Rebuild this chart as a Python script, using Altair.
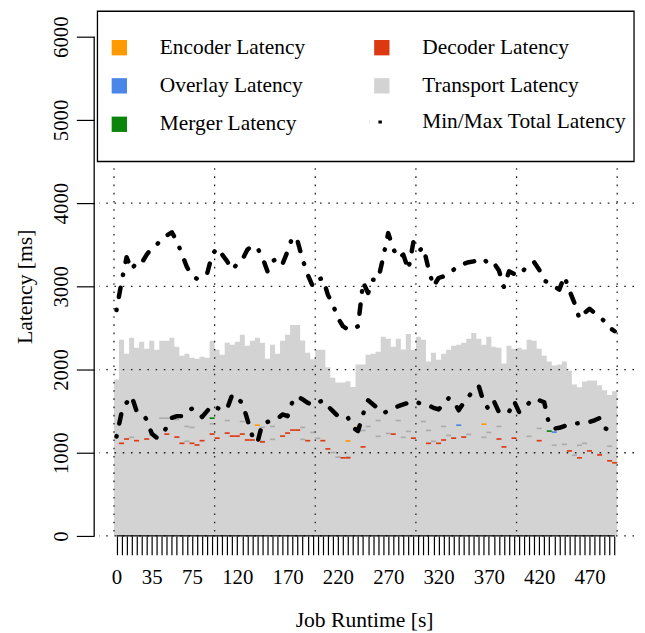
import altair as alt
import pandas as pd

FONT = "Liberation Serif"

# ---------------- data ----------------
runtime = list(range(0, 500, 5))          # start second of every bar (100 bars)
tick_labels = ["0", "35", "75", "120", "170", "220", "270", "320", "370", "420", "470"]

transport_top = [
    1880, 2357, 2190, 2381, 2262, 2333, 2250, 2345, 2238, 2345,
    2345, 2381, 2274, 2167, 2190, 2143, 2131, 2155, 2143, 2345,
    2238, 2179, 2321, 2298, 2333, 2417, 2286, 2345, 2381, 2321,
    2131, 2298, 2190, 2345, 2417, 2536, 2536, 2350, 2202, 2125,
    2238, 2238, 2028, 1900, 1845, 1845, 1860, 1790, 2060, 2060,
    2179, 2190, 2214, 2393, 2369, 2274, 2369, 2242, 2428, 2238,
    2393, 2357, 2095, 2202, 2119, 2190, 2238, 2286, 2298, 2321,
    2369, 2440, 2369, 2298, 2393, 2274, 2262, 2071, 2286, 2250,
    2262, 2240, 2357, 2345, 2250, 2167, 2095, 2048, 2060, 2095,
    1985, 1821, 1786, 1857, 1869, 1869, 1810, 1750, 1695, 1738,
]

max_total = [
    2714, 3050, 3350, 3200, 3290, 3280, 3380, 3460, 3500, 3570,
    3610, 3650, 3540, 3390, 3230, 3130, 3090, 3110, 3150, 3380,
    3460, 3380, 3300, 3200, 3270, 3320, 3440, 3490, 3460, 3350,
    3180, 3300, 3340, 3270, 3420, 3600, 3540, 3320, 3140, 3000,
    3080, 3100, 2900, 2780, 2620, 2520, 2480, 2480, 2520, 3050,
    2920, 3080, 3080, 3350, 3640, 3450, 3340, 3380, 3200, 3530,
    3420, 3470, 3210, 3000, 3100, 3120, 3150, 3200, 3250, 3270,
    3290, 3300, 3310, 3330, 3260, 3280, 3190, 2990, 3180, 3150,
    3130, 3200, 3260, 3290, 3200, 3070, 3040, 3000, 2960, 3120,
    2950, 2800, 2610, 2680, 2730, 2680, 2630, 2580, 2500, 2460,
]

min_total = [
    1194, 1480, 1600, 1680, 1500, 1470, 1400, 1230, 1180, 1210,
    1310, 1420, 1440, 1440, 1500, 1530, 1480, 1430, 1500, 1571,
    1540, 1510, 1530, 1700, 1650, 1600, 1400, 1200, 1120, 1357,
    1370, 1390, 1410, 1460, 1440, 1620, 1680, 1640, 1600, 1571,
    1600, 1630, 1560, 1500, 1440, 1450, 1420, 1300, 1260, 1464,
    1630, 1580, 1530, 1476, 1500, 1530, 1560, 1580, 1600, 1619,
    1600, 1580, 1570, 1540, 1520, 1590, 1655, 1620, 1510, 1600,
    1679, 1750, 1800, 1600, 1523, 1619, 1488, 1470, 1490, 1620,
    1490, 1530, 1600, 1650, 1630, 1607, 1330, 1290, 1300, 1321,
    1340, 1350, 1355, 1360, 1370, 1390, 1417, 1300, 1260, 1250,
]

# small stage segments: bar index and the stacked height at which they sit
decoder_bar = [1, 2, 4, 6, 10, 12, 13, 15, 16, 17, 19, 20, 22, 23, 24, 25, 26, 27, 29, 33,
               34, 35, 36, 38, 41, 42, 45, 46, 49, 55, 59, 62, 64, 65, 67, 69, 76, 77, 79, 84,
               90, 92, 94, 96, 98, 99]
decoder_level = [1103, 1155, 1135, 1155, 1214, 1178, 1103, 1103, 1083, 1135, 1214, 1165, 1226,
                 1190, 1190, 1214, 1143, 1143, 1120, 1190, 1226, 1262, 1262, 1135, 1135, 1036,
                 929, 929, 1060, 1214, 1165, 1103, 1103, 1143, 1165, 1178, 1155, 1060, 1165,
                 1135, 1012, 929, 1012, 964, 893, 869]
encoder_bar = [28, 46, 48, 73]
encoder_level = [1321, 1131, 1297, 1333]
overlay_bar = [68, 87]
overlay_level = [1321, 1238]
merger_bar = [19, 86]
merger_level = [1405, 1250]
other_bar = [3, 7, 9, 10, 12, 14, 14, 15, 19, 22, 25, 29, 29, 31, 31, 37, 37, 39, 40, 43,
             44, 46, 49, 50, 52, 52, 54, 56, 57, 58, 61, 62, 63, 65, 66, 70, 73, 74, 76, 82,
             84, 87, 89, 91, 92, 93, 98]
other_level = [1175, 1198, 1405, 1405, 1389, 1306, 1127, 1294, 1337, 1377, 1365, 1294, 1127,
               1306, 1151, 1294, 1151, 1234, 1163, 992, 937, 937, 1258, 1306, 1377, 1187,
               1222, 1377, 1175, 1246, 1365, 1258, 1127, 1306, 1198, 1210, 1175, 1234, 1306,
               1187, 1282, 1080, 1091, 960, 1080, 1103, 1068]
segment_ms = 20

series_names = ["Encoder Latency", "Decoder Latency", "Overlay Latency",
                "Transport Latency", "Merger Latency"]
series_colors = ["#FF9900", "#DC3912", "#4A86E8", "#D3D3D3", "#0A840A"]
line_name = "Min/Max Total Latency"

# ---------------- tables ----------------
BAR_W = 5
# transport bars drawn as one stepped area (bar i covers [t, t+5]); closing edge repeats last top
transport_df = pd.DataFrame({
    "series": "Transport Latency",
    "t0": runtime + [runtime[-1] + BAR_W],
    "lo": 0,
    "hi": transport_top + [transport_top[-1]],
})

seg_rows = []
for name, bars, levels in [("Encoder Latency", encoder_bar, encoder_level),
                           ("Decoder Latency", decoder_bar, decoder_level),
                           ("Overlay Latency", overlay_bar, overlay_level),
                           ("Merger Latency", merger_bar, merger_level)]:
    for b, lv in zip(bars, levels):
        seg_rows.append({"series": name, "t0": runtime[b], "t1": runtime[b] + BAR_W,
                         "lo": lv, "hi": lv + segment_ms})
seg_df = pd.DataFrame(seg_rows)

other_df = pd.DataFrame({
    "t0": [runtime[b] for b in other_bar],
    "t1": [runtime[b] + BAR_W for b in other_bar],
    "lo": other_level,
    "hi": [v + segment_ms for v in other_level],
})

centers = [t + BAR_W / 2 for t in runtime]
line_df = pd.concat([
    pd.DataFrame({"t": centers, "ms": max_total, "kind": "max", "label": line_name}),
    pd.DataFrame({"t": centers, "ms": min_total, "kind": "min", "label": line_name}),
])

label_idx = [runtime.index(int(v)) for v in tick_labels]
label_vals = [centers[i] for i in label_idx]

ygrid_df = pd.DataFrame({"v": [0, 1000, 2000, 3000, 4000, 5000, 6000]})
xgrid_df = pd.DataFrame({"v": [runtime[i] for i in range(0, 100, 20)] + [runtime[-1] + BAR_W]})
xaxis_df = pd.DataFrame({"a": [centers[0]], "b": [centers[-1]], "y": [0]})
yaxis_df = pd.DataFrame({"a": [0], "b": [6000]})

# ---------------- scales / axes ----------------
W, H = 540, 529
xscale = alt.Scale(domain=[-14.76, 516.73], nice=False, zero=False)
yscale = alt.Scale(domain=[0, 6297.6], nice=False, zero=False)

label_list = ",".join(str(v) for v in label_vals)
x_axis = alt.Axis(
    values=centers,
    labelExpr=f"indexof([{label_list}], datum.value) >= 0 ? format(datum.value - {BAR_W / 2}, 'd') : ''",
    domain=False, grid=False, ticks=True, tickSize=19, tickWidth=1.2, tickColor="black",
    labelFont=FONT, labelFontSize=21, labelColor="black", labelPadding=23,
    labelBaseline="middle", labelOverlap=False, labelFlush=False,
    title="Job Runtime [s]", titleFont=FONT, titleFontSize=21.8, titleFontWeight="normal",
    titleColor="black", titleBaseline="middle", titleAlign="center", titleY=84, titleX=267.5,
)
y_axis = alt.Axis(
    values=[0, 1000, 2000, 3000, 4000, 5000, 6000], format="d",
    domain=False, grid=False, tickSize=18, tickWidth=1.2, tickColor="black", offset=5,
    labelFont=FONT, labelFontSize=21, labelColor="black", labelAngle=270,
    labelAlign="center", labelBaseline="middle", labelPadding=15, labelOverlap=False,
    labelFlush=False,
    title="Latency [ms]", titleFont=FONT, titleFontSize=21.8, titleFontWeight="normal",
    titleColor="black", titleAngle=270, titleBaseline="middle", titleAlign="center",
    titleX=-70, titleY=277,
)

LEG_FS = 21.6
color_enc = alt.Color(
    "series:N",
    scale=alt.Scale(domain=series_names, range=series_colors),
    legend=alt.Legend(
        title=None, orient="none", legendX=9.6, legendY=25, columns=2, direction="horizontal",
        columnPadding=66, rowPadding=15.8, symbolType="square", symbolSize=240,
        symbolStrokeWidth=0, labelFont=FONT, labelFontSize=LEG_FS, labelColor="black",
        labelOffset=30, labelLimit=400, padding=0,
    ),
)

X = lambda f: alt.X(f, scale=xscale, axis=x_axis)
Y = lambda f: alt.Y(f, scale=yscale, axis=y_axis)

DOT = dict(color="#222222", strokeWidth=1.3, strokeDash=[1.6, 6.7])

transport = alt.Chart(transport_df).mark_area(interpolate="step-after").encode(
    x=X("t0:Q"), y=Y("hi:Q"), y2="lo:Q", color=color_enc,
)
others = alt.Chart(other_df).mark_bar(color="#ABABAB").encode(
    x=X("t0:Q"), x2="t1:Q", y=Y("lo:Q"), y2="hi:Q",
)
segments = alt.Chart(seg_df).mark_bar().encode(
    x=X("t0:Q"), x2="t1:Q", y=Y("lo:Q"), y2="hi:Q", color=color_enc,
)
ygrid = alt.Chart(ygrid_df).mark_rule(**DOT).encode(y=Y("v:Q"))
xgrid = alt.Chart(xgrid_df).mark_rule(**DOT).encode(x=X("v:Q"))
xaxis_line = alt.Chart(xaxis_df).mark_rule(color="black", strokeWidth=1.3).encode(
    x=X("a:Q"), x2="b:Q", y=Y("y:Q"),
)
yaxis_line = alt.Chart(yaxis_df).mark_rule(color="black", strokeWidth=1.3).encode(
    x=alt.value(-5), y=Y("a:Q"), y2="b:Q",
)
lines = alt.Chart(line_df).mark_line(
    color="black", strokeWidth=4.5, strokeCap="round", strokeJoin="round",
    strokeDash=[0.5, 13, 9.5, 13],
).encode(
    x=X("t:Q"), y=Y("ms:Q"),
    detail="kind:N",
    opacity=alt.Opacity(
        "label:N",
        scale=alt.Scale(domain=[line_name], range=[1]),
        legend=alt.Legend(
            title=None, orient="none", legendX=268.5, legendY=100.3,
            symbolType="stroke", symbolSize=151, symbolStrokeWidth=3,
            symbolStrokeColor="black", symbolDash=[0.1, 8.7, 3.5, 30],
            labelFont=FONT, labelFontSize=LEG_FS, labelColor="black",
            labelOffset=36, labelLimit=400, padding=0,
        ),
    ),
)
legend_box = alt.Chart(alt.Data(values=[{"box": 1}])).mark_rect(
    fill="white", stroke="black", strokeWidth=1.3,
).encode(
    x=alt.value(-1.7), x2=alt.value(540), y=alt.value(-0.7), y2=alt.value(151),
)

chart = alt.layer(
    transport, others, segments, xgrid, ygrid, lines, xaxis_line, yaxis_line, legend_box,
).properties(
    width=W, height=H,
    autosize=alt.AutoSizeParams(type="none"),
    padding={"left": 92, "top": 1, "right": 3, "bottom": 94},
    background="white",
).configure_view(stroke=None)

chart.save("out.html", embed_options={"renderer": "svg", "actions": False})
